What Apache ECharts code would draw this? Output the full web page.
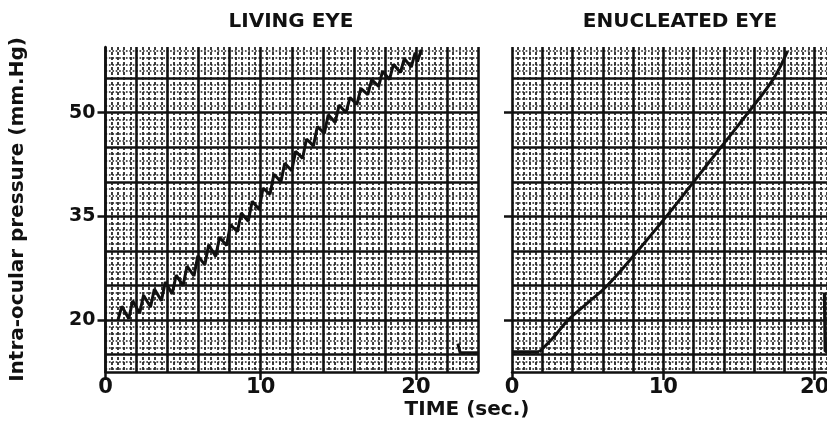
<!DOCTYPE html>
<html>
<head>
<meta charset="utf-8">
<script src="https://cdn.jsdelivr.net/npm/echarts@6/dist/echarts.min.js"></script>
<style>
  html, body { margin: 0; padding: 0; background: #fff; }
  #chart { width: 827px; height: 429px; }
</style>
</head>
<body>
<div id="chart"></div>
<script>
// Living eye: pulse-modulated pressure trace (seconds, mm Hg)
const livingTime = [
  0.80, 1.05, 1.50, 1.75, 2.20, 2.45, 2.90, 3.15, 3.60, 3.85,
  4.30, 4.55, 5.00, 5.25, 5.70, 5.95, 6.40, 6.65, 7.10, 7.35,
  7.80, 8.05, 8.50, 8.75, 9.20, 9.45, 9.90, 10.15, 10.60, 10.85,
  11.30, 11.55, 12.00, 12.25, 12.70, 12.95, 13.40, 13.65, 14.10, 14.35,
  14.80, 15.05, 15.50, 15.75, 16.20, 16.45, 16.90, 17.15, 17.60, 17.85,
  18.30, 18.55, 19.00, 19.25, 19.70, 19.95, 20.10, 20.35
];
const livingPressure = [
  20.0, 22.0, 20.2, 22.8, 21.0, 23.6, 21.9, 24.5, 22.8, 25.5,
  23.8, 26.5, 25.0, 27.8, 26.4, 29.3, 28.0, 30.9, 29.2, 32.0,
  30.8, 33.8, 32.8, 35.5, 34.3, 37.2, 36.0, 39.1, 38.2, 41.1,
  40.0, 42.7, 41.6, 44.4, 43.4, 46.2, 45.2, 48.0, 47.0, 49.7,
  48.6, 51.1, 50.0, 52.2, 51.2, 53.5, 52.6, 54.8, 53.8, 56.0,
  54.8, 57.0, 55.8, 57.8, 56.6, 58.7, 57.4, 59.1
];
const livingReleaseTime = [22.7, 22.85, 24.0];
const livingReleasePressure = [16.6, 15.3, 15.3];

// Enucleated eye: baseline, then a smooth pressure rise
const enucleatedBaseTime = [0, 1.8];
const enucleatedBasePressure = [15.4, 15.4];
const enucleatedTime = [1.8, 2.7, 3.7, 5.0, 6.3, 8.3, 10.2, 12.0, 13.8, 15.6, 17.3, 18.2];
const enucleatedPressure = [15.4, 17.4, 20.0, 22.5, 25.0, 30.0, 35.0, 40.0, 45.0, 50.0, 55.0, 58.9];
const enucleatedReleaseTime = [20.65, 20.7, 21.2];
const enucleatedReleasePressure = [24.0, 15.5, 15.5];

// Axis ticks and grid rulings
const pressureTicks = [20, 35, 50];
const pressureRulings = [15, 20, 25, 30, 35, 40, 45, 50, 55];
const timeTicks = [0, 10, 20];

const panelTitles = ['LIVING EYE', 'ENUCLEATED EYE'];
const pressureTitle = 'Intra-ocular pressure (mm.Hg)';
const timeTitle = 'TIME (sec.)';

const INK = '#111';
const FONT = '"DejaVu Sans", sans-serif';

function zip(xs, ys) { return xs.map((x, i) => [x, ys[i]]); }

function rulingX(gridIndex, max) {
  return {
    type: 'value', gridIndex, min: 0, max, interval: 2, position: 'bottom',
    axisLine: { show: false }, axisTick: { show: false }, axisLabel: { show: false },
    splitLine: { show: true, lineStyle: { color: INK, width: 2.6 } },
    minorTick: { show: false, splitNumber: 5 },
    minorSplitLine: { show: true, lineStyle: { color: '#1a1a1a', width: 1.7, type: [3, 2] } }
  };
}
function labelX(gridIndex, max) {
  return {
    type: 'value', gridIndex, min: 0, max, position: 'bottom',
    axisLine: { show: true, lineStyle: { color: INK, width: 2.5 } },
    axisTick: { show: true, customValues: timeTicks, length: 8, lineStyle: { color: INK, width: 2.5 } },
    axisLabel: { customValues: timeTicks, color: INK, fontSize: 21, fontWeight: 'bold', fontFamily: FONT, margin: 5 },
    splitLine: { show: false }
  };
}
function rulingY(gridIndex) {
  return {
    type: 'value', gridIndex, min: 12.5, max: 59.5, splitNumber: 9, position: 'left',
    axisLine: { show: false }, axisTick: { show: false, customValues: pressureRulings },
    axisLabel: { show: false },
    splitLine: { show: true, lineStyle: { color: INK, width: 2.6 } },
    minorTick: { show: false, splitNumber: 5 },
    minorSplitLine: { show: true, lineStyle: { color: '#222', width: 1.7, type: 'dotted' } }
  };
}
function labelY(gridIndex, withLabels) {
  const axis = {
    type: 'value', gridIndex, min: 12.5, max: 59.5, position: 'left',
    axisLine: { show: withLabels, lineStyle: { color: INK, width: 2.5 } },
    axisTick: { show: true, customValues: pressureTicks, length: 8, lineStyle: { color: INK, width: 2.5 } },
    axisLabel: { show: withLabels, customValues: pressureTicks, color: INK, fontSize: 19, fontWeight: 'bold', fontFamily: FONT, margin: 10 },
    splitLine: { show: false }
  };
  if (withLabels) {
    Object.assign(axis, {
      name: pressureTitle, nameLocation: 'middle', nameRotate: 90, nameGap: 78,
      nameTextStyle: { color: INK, fontSize: 20, fontWeight: 'bold', fontFamily: FONT }
    });
  }
  return axis;
}
function trace(xIdx, yIdx, xs, ys, width, smooth) {
  return {
    type: 'line', xAxisIndex: xIdx, yAxisIndex: yIdx, data: zip(xs, ys),
    showSymbol: false, silent: true, animation: false, smooth: smooth || false,
    lineStyle: { color: INK, width }
  };
}

const chart = echarts.init(document.getElementById('chart'), null, { renderer: 'canvas' });
chart.setOption({
  backgroundColor: '#fff',
  animation: false,
  grid: [
    { left: 105.5, top: 47, width: 372.5, height: 325, outerBoundsMode: 'none' },
    { left: 512, top: 47, width: 333, height: 325, outerBoundsMode: 'none' }
  ],
  xAxis: [rulingX(0, 24), labelX(0, 24), rulingX(1, 22), labelX(1, 22)],
  yAxis: [rulingY(0), labelY(0, true), rulingY(1), labelY(1, false)],
  series: [
    trace(0, 0, livingTime, livingPressure, 3),
    trace(0, 0, livingReleaseTime, livingReleasePressure, 3),
    trace(2, 2, enucleatedBaseTime, enucleatedBasePressure, 3.5),
    trace(2, 2, enucleatedTime, enucleatedPressure, 3, 0.4),
    trace(2, 2, enucleatedReleaseTime, enucleatedReleasePressure, 3.5)
  ],
  graphic: [
    { type: 'text', x: 291, y: 22, style: { text: panelTitles[0], align: 'center', verticalAlign: 'middle', fill: INK, font: 'bold 20px ' + FONT } },
    { type: 'text', x: 680, y: 22, style: { text: panelTitles[1], align: 'center', verticalAlign: 'middle', fill: INK, font: 'bold 20px ' + FONT } },
    { type: 'text', x: 467, y: 410, style: { text: timeTitle, align: 'center', verticalAlign: 'middle', fill: INK, font: 'bold 20px ' + FONT } }
  ]
});
</script>
</body>
</html>
